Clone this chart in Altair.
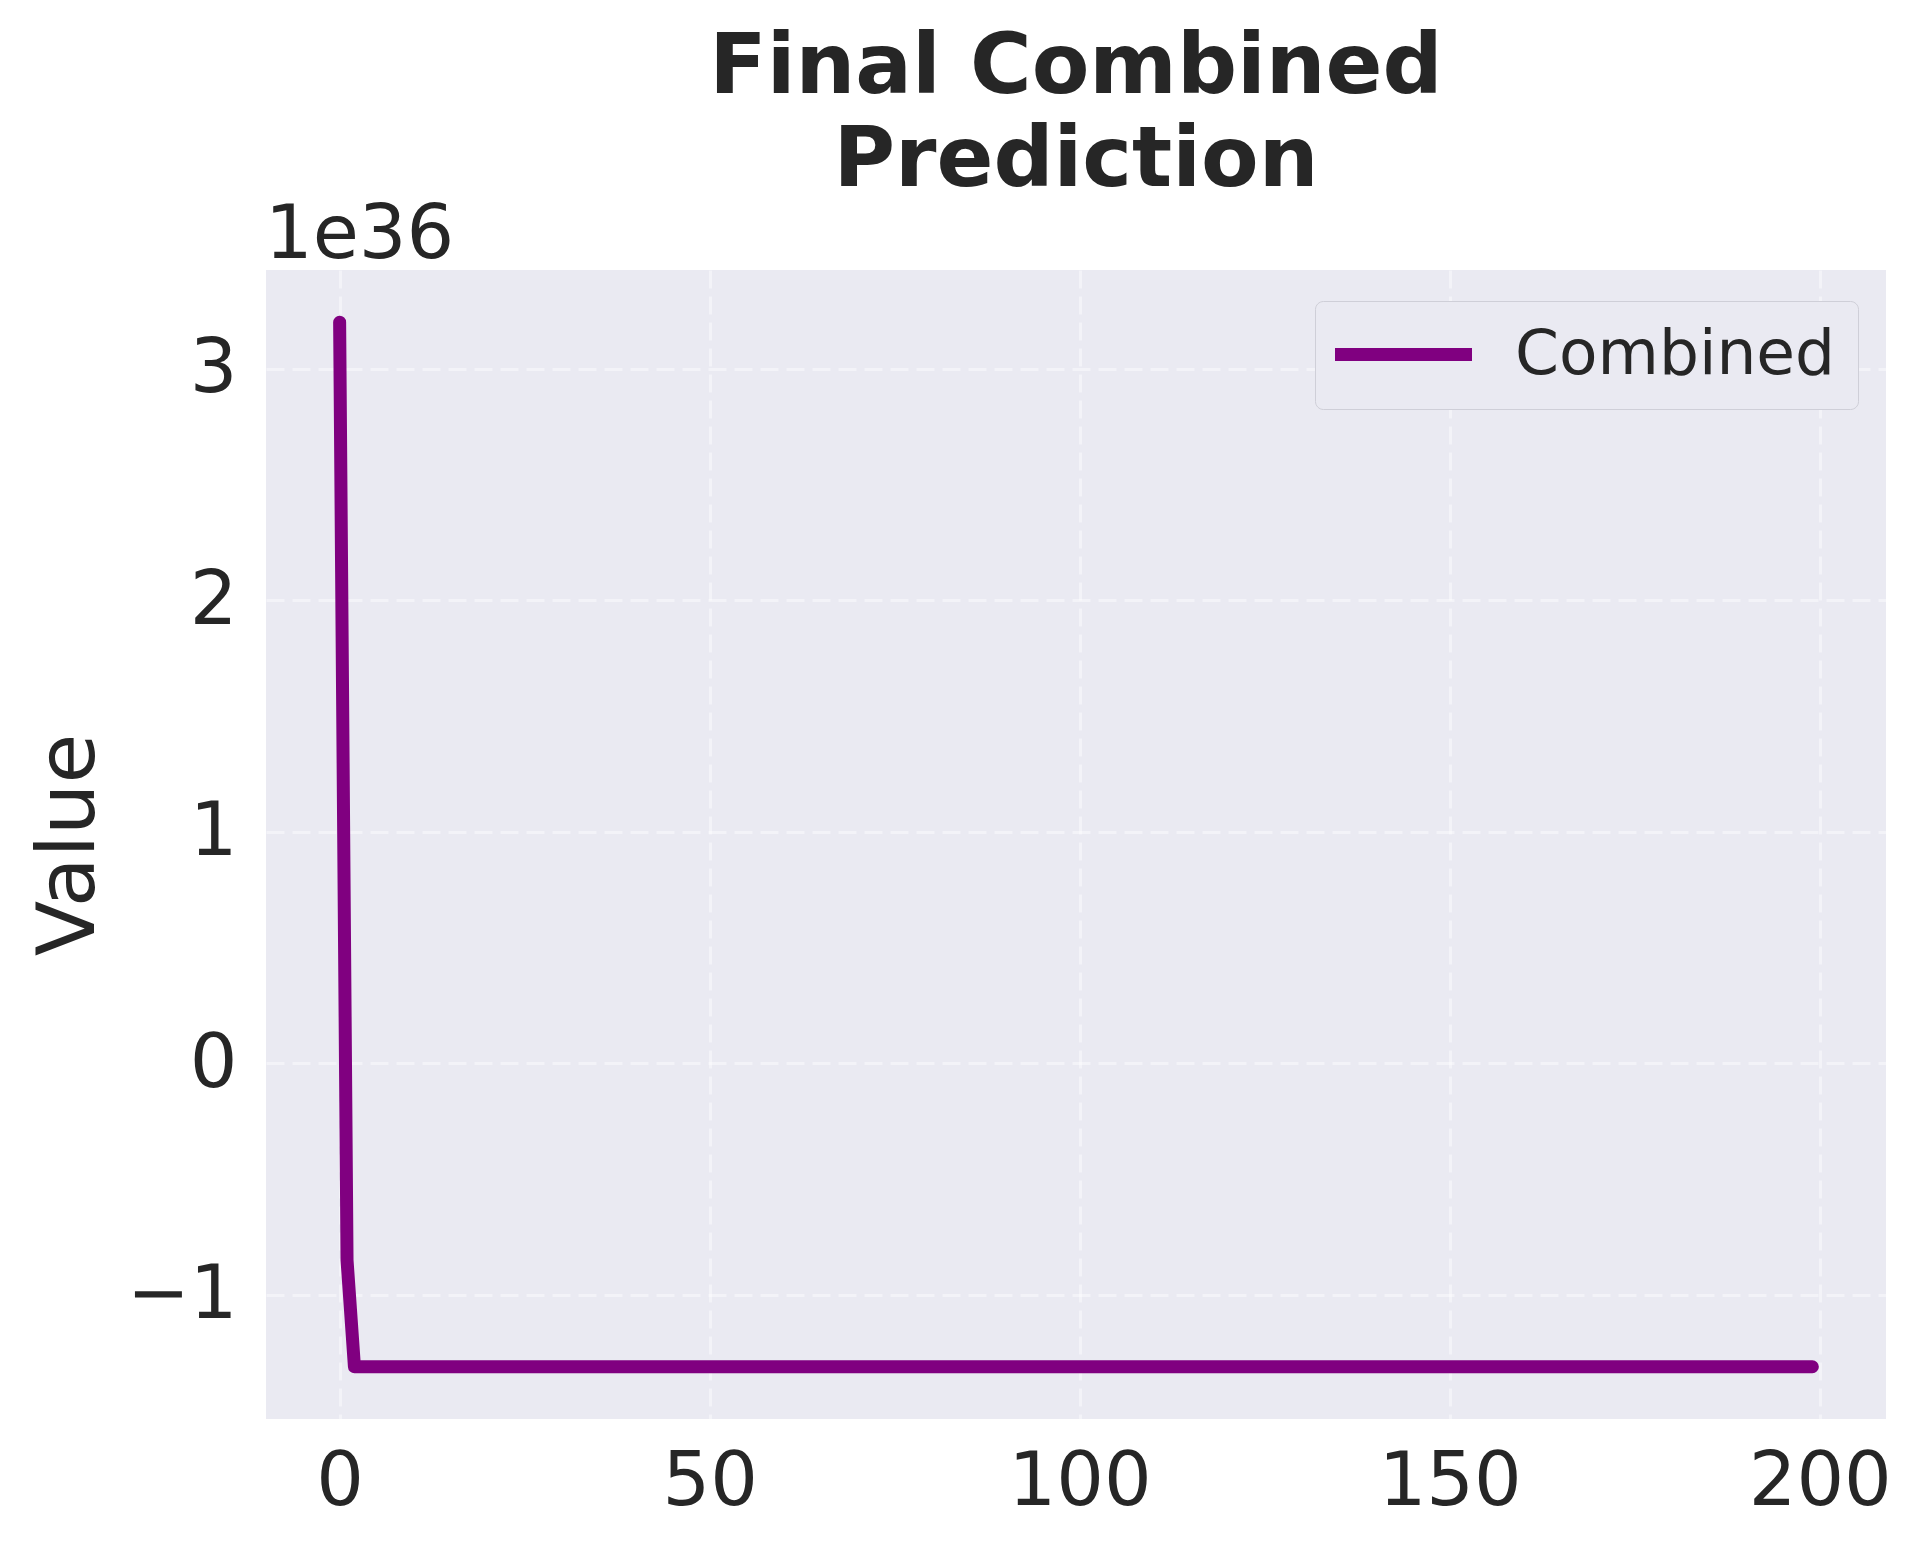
import altair as alt
import pandas as pd

# x positions (index) and values in units of 1e36
x_index = list(range(200))
combined = [3.2, -0.85] + [-1.31] * 198
series_name = ["Combined"] * 200

x_ticks = [0, 50, 100, 150, 200]
y_ticks = [-1, 0, 1, 2, 3]
offset_label = ["1e36"]

FONT = "DejaVu Sans"
TEXT = "#262626"
BG = "#EAEAF2"

df = pd.DataFrame({"x": x_index, "value": combined, "series": series_name})

line = alt.Chart(df).mark_line(
    strokeWidth=13, strokeCap="round", strokeJoin="round"
).encode(
    x=alt.X(
        "x:Q",
        scale=alt.Scale(domain=[-9.95, 208.95], nice=False, zero=False),
        axis=alt.Axis(values=x_ticks, title=None, labelPadding=26, format="d"),
    ),
    y=alt.Y(
        "value:Q",
        scale=alt.Scale(domain=[-1.5355, 3.4255], nice=False, zero=False),
        axis=alt.Axis(
            values=y_ticks,
            format="d",
            title="Value",
            labelPadding=29,
            titleX=-173,
            titleY=574.5,
            titleAngle=270,
            titleAlign="center",
            titleBaseline="alphabetic",
            titleFontSize=81,
            titleFontWeight="normal",
        ),
    ),
    color=alt.Color(
        "series:N",
        scale=alt.Scale(domain=["Combined"], range=["#800080"]),
        legend=alt.Legend(
            title=None,
            orient="none",
            legendX=1049,
            legendY=31,
            symbolType="M-1.34,0H4.14",
            symbolStrokeWidth=13,
            symbolSize=2500,
            labelFontSize=63,
            labelFont=FONT,
            labelColor=TEXT,
            labelOffset=115,
            labelLimit=1000,
            padding=22,
            fillColor=BG,
            strokeColor="#cfcfd8",
            cornerRadius=8,
        ),
    ),
)

offset_text = alt.Chart(pd.DataFrame({"t": offset_label})).mark_text(
    align="left", baseline="alphabetic", fontSize=75, font=FONT, color=TEXT
).encode(
    x=alt.value(-1),
    y=alt.value(-12),
    text="t:N",
)

chart = alt.layer(line, offset_text).properties(
    width=1620,
    height=1149,
    title=alt.TitleParams(
        text=["Final Combined", "Prediction"],
        fontSize=84,
        fontWeight="bold",
        font=FONT,
        color=TEXT,
        lineHeight=93,
        anchor="middle",
        offset=0,
        dy=6,
    ),
    autosize=alt.AutoSizeParams(type="none"),
    padding={"left": 258, "top": 262, "right": 26, "bottom": 124},
    background="white",
).configure_view(
    fill=BG, stroke=None
).configure_axis(
    labelFont=FONT,
    labelFontSize=75,
    labelColor=TEXT,
    titleFont=FONT,
    titleColor=TEXT,
    ticks=False,
    domain=False,
    grid=True,
    gridColor="white",
    gridOpacity=0.45,
    gridWidth=3,
    gridDash=[18, 8],
).configure_axisY(
    labelBaseline="middle",
)

chart.save("out.html", embed_options={"renderer": "svg", "actions": False})
